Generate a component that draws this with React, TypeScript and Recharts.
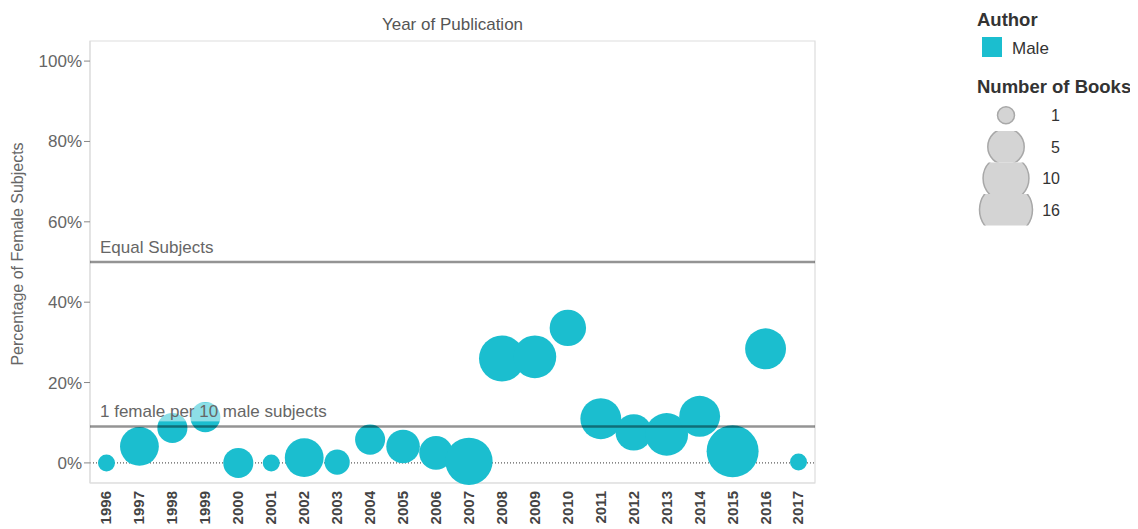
import React from 'react';
import {
  ScatterChart,
  Scatter,
  XAxis,
  YAxis,
  ZAxis,
  ReferenceLine,
  ReferenceArea,
} from 'recharts';

// ---------- data ----------
const years = [1996, 1997, 1998, 1999, 2000, 2001, 2002, 2003, 2004, 2005, 2006, 2007, 2008, 2009, 2010, 2011, 2012, 2013, 2014, 2015, 2016, 2017];
const femalePct = [0, 4.1, 8.7, 11.4, 0, 0, 1.3, 0.2, 5.8, 4.1, 2.5, 0.4, 26.0, 26.4, 33.6, 11.0, 7.6, 7.1, 11.6, 2.9, 28.4, 0.2];
const bookCounts = [1, 6, 3, 3, 3, 1, 6, 2, 3, 4, 4, 11, 10, 8, 5, 7, 5, 8, 7, 15, 7, 1];
const yTicks = [0, 20, 40, 60, 80, 100];
const legendSizes = [1, 5, 10, 16];
const authorCategories = ['Male'];
const equalLine = 50;
const oneInTenLine = 100 / 11;

// ---------- styles ----------
const FONT = '"Liberation Sans", Arial, Helvetica, sans-serif';
const TEAL = '#1bbecf';
const Z_DOMAIN: [number, number] = [1, 16];
const Z_RANGE: [number, number] = [227, 2206];

const data = years.map((year, i) => ({ year, pct: femalePct[i], books: bookCounts[i] }));
const boundaries = [years[0] - 0.5, ...years.map((y) => y + 0.5)];
const xDomain: [number, number] = [years[0] - 0.5, years[years.length - 1] + 0.5];

// same sqrt mapping as ZAxis (area in px^2)
const sizeToRadius = (n: number) => {
  const t = (Math.sqrt(n) - Math.sqrt(Z_DOMAIN[0])) / (Math.sqrt(Z_DOMAIN[1]) - Math.sqrt(Z_DOMAIN[0]));
  const area = Z_RANGE[0] + t * (Z_RANGE[1] - Z_RANGE[0]);
  return Math.sqrt(area / Math.PI);
};

const YearTick = (props: any) => {
  const { x, y, payload } = props;
  return (
    <text
      x={x}
      y={y}
      dy="0.33em"
      transform={`rotate(-90 ${x} ${y})`}
      textAnchor="end"
      fill="#444"
      fontWeight="bold"
      fontSize={15}
      fontFamily={FONT}
    >
      {payload.value}
    </text>
  );
};

const refLabel = (text: string, boxWidth: number) => (p: any) => {
  const vb = p.viewBox || {};
  const x = vb.x ?? 0;
  const y = vb.y ?? 0;
  return (
    <g>
      <rect x={x + 7} y={y - 24} width={boxWidth} height={19} fill="#fff" fillOpacity={0.5} />
      <text x={x + 10} y={y - 9} fill="#666" fontSize={17} fontFamily={FONT}>
        {text}
      </text>
    </g>
  );
};

const yTitle = (p: any) => {
  const vb = p.viewBox || {};
  const cx = (vb.x ?? 0) + 9;
  const cy = (vb.y ?? 0) + (vb.height ?? 0) / 2 - 8;
  return (
    <text
      x={cx}
      y={cy}
      transform={`rotate(-90 ${cx} ${cy})`}
      textAnchor="middle"
      dominantBaseline="central"
      fill="#666"
      fontSize={16}
      fontFamily={FONT}
    >
      Percentage of Female Subjects
    </text>
  );
};

const Legend = () => {
  const rowTop = 91.5;
  const rowH = 31.5;
  return (
    <svg width={170} height={225} style={{ position: 'absolute', left: 960, top: 0 }}>
      <defs>
        {legendSizes.map((_, i) => (
          <clipPath id={`lg-row-${i}`} key={i}>
            <rect x={0} y={rowTop + i * rowH} width={90} height={rowH} />
          </clipPath>
        ))}
      </defs>
      <text x={9} y={18} fontSize={18.5} fontWeight="bold" fill="#333" fontFamily={FONT}>
        Author
      </text>
      {authorCategories.map((c, i) => (
        <g key={c}>
          <rect x={14} y={29 + i * 24} width={20} height={20} fill={TEAL} />
          <text x={44} y={46 + i * 24} fontSize={17} fill="#333" fontFamily={FONT}>
            {c}
          </text>
        </g>
      ))}
      <text x={9} y={85} fontSize={18.5} fontWeight="bold" fill="#333" fontFamily={FONT}>
        Number of Books
      </text>
      {legendSizes.map((n, i) => {
        const cy = rowTop + i * rowH + rowH / 2;
        return (
          <g key={n}>
            <circle
              cx={38}
              cy={cy}
              r={sizeToRadius(n)}
              fill="#d4d4d4"
              stroke="#a8a8a8"
              strokeWidth={1.5}
              clipPath={`url(#lg-row-${i})`}
            />
            <text x={92} y={cy + 6} textAnchor="end" fontSize={16} fill="#333" fontFamily={FONT}>
              {n}
            </text>
          </g>
        );
      })}
    </svg>
  );
};

export default function App() {
  return (
    <div style={{ position: 'relative', width: 1122, height: 521, fontFamily: FONT }}>
      <ScatterChart width={1122} height={521} margin={{ top: 33, right: 315, bottom: 0, left: 0 }}>
        <XAxis
          xAxisId="sep"
          type="number"
          domain={xDomain}
          ticks={boundaries}
          tick={false}
          tickLine={{ stroke: '#ddd' }}
          tickSize={5}
          axisLine={false}
          height={0}
          interval={0}
        />
        <XAxis
          xAxisId="yr"
          type="number"
          dataKey="year"
          domain={xDomain}
          ticks={years}
          interval={0}
          tickLine={false}
          tickSize={6}
          tickMargin={2}
          axisLine={{ stroke: '#ddd' }}
          height={46}
          tick={<YearTick />}
        />
        <YAxis
          type="number"
          dataKey="pct"
          domain={[-5, 105]}
          ticks={yTicks}
          interval={0}
          width={82}
          tickFormatter={(v: number) => `${v}%`}
          tick={{ fill: '#666', fontSize: 17, fontFamily: FONT }}
          tickLine={{ stroke: '#888' }}
          tickSize={6}
          tickMargin={2}
          axisLine={{ stroke: '#ddd' }}
          label={yTitle}
        />
        <ZAxis type="number" dataKey="books" domain={Z_DOMAIN} range={Z_RANGE} scale="sqrt" />
        <ReferenceArea
          xAxisId="yr"
          x1={xDomain[0]}
          x2={xDomain[1]}
          y1={-5}
          y2={105}
          fill="none"
          stroke="#ddd"
          strokeWidth={1.2}
          label={{ value: 'Year of Publication', position: 'top', offset: 11, fill: '#555', fontSize: 17, fontFamily: FONT }}
        />
        <ReferenceLine xAxisId="yr" y={0} stroke="#333" strokeDasharray="1 2" strokeWidth={1} />
        <Scatter xAxisId="yr" data={data} fill={TEAL} isAnimationActive={false} />
        <ReferenceLine
          xAxisId="yr"
          y={equalLine}
          stroke="#000"
          strokeOpacity={0.42}
          strokeWidth={2.5}
          zIndex={1500}
          label={refLabel('Equal Subjects', 119)}
        />
        <ReferenceLine
          xAxisId="yr"
          y={oneInTenLine}
          stroke="#000"
          strokeOpacity={0.42}
          strokeWidth={2.5}
          zIndex={1500}
          label={refLabel('1 female per 10 male subjects', 233)}
        />
      </ScatterChart>
      <Legend />
    </div>
  );
}
